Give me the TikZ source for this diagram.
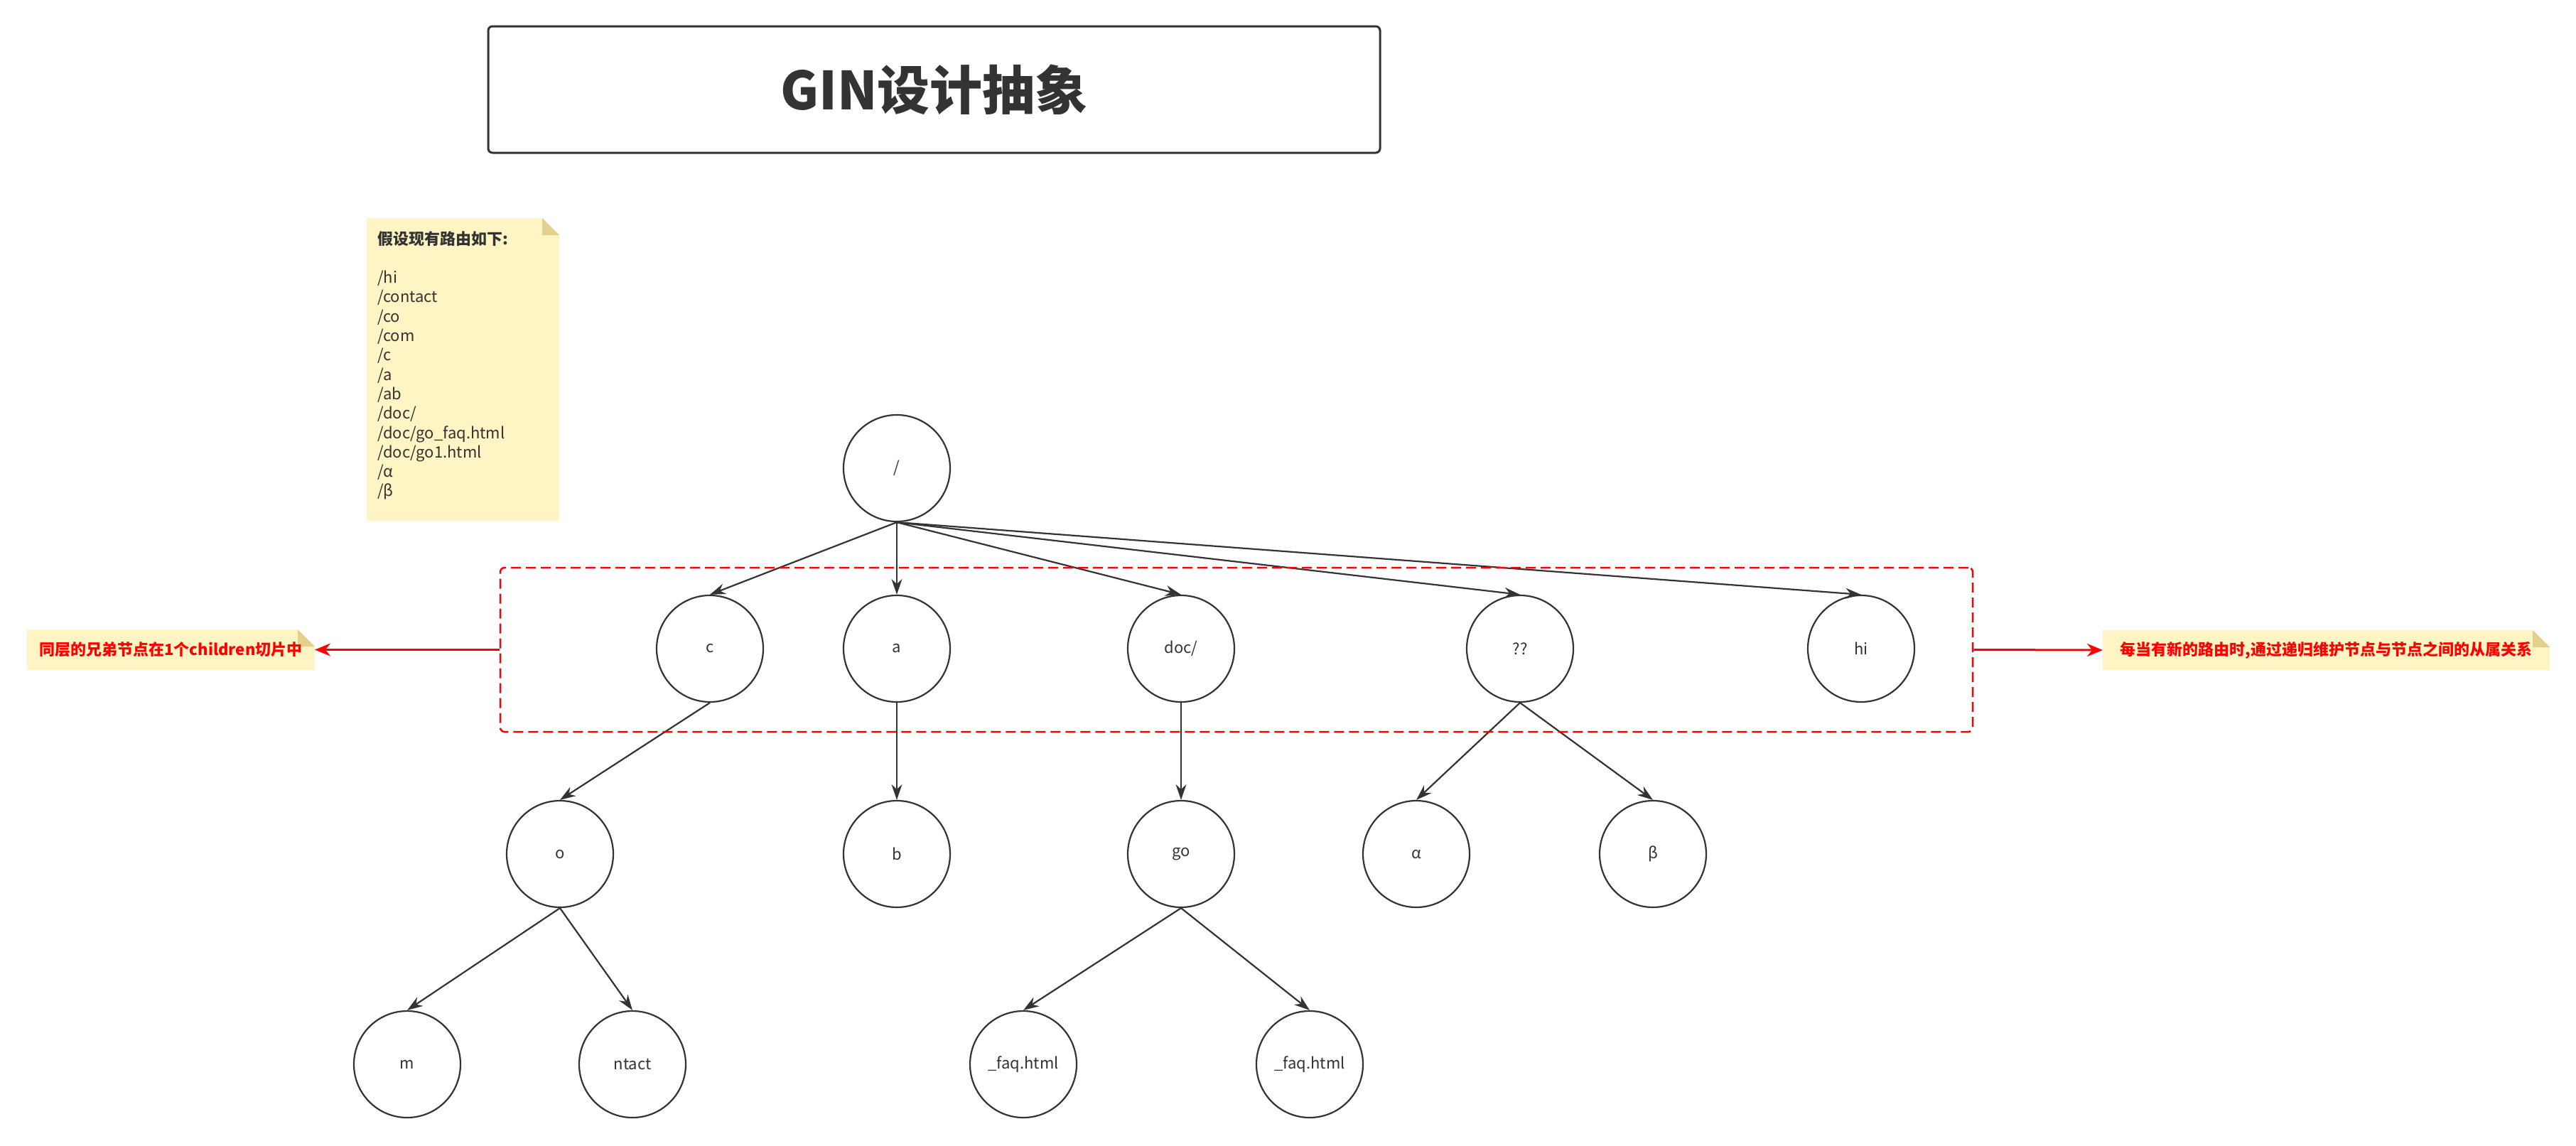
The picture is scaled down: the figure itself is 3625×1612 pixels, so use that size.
\documentclass[tikz,border=0pt]{standalone}
\usepackage{fontspec}
\setmainfont{Noto Sans CJK SC}
\usetikzlibrary{arrows.meta,backgrounds}
\definecolor{ink}{HTML}{333333}
\definecolor{notefill}{HTML}{FFF4C3}
\definecolor{foldfill}{HTML}{E3D08C}
\newcommand{\drawnote}[2]{%
  \fill[notefill] (#1.north west) -- ([xshift=-#2]#1.north east) -- ([yshift=-#2]#1.north east) -- (#1.south east) -- (#1.south west) -- cycle;
  \fill[foldfill] ([xshift=-#2]#1.north east) -- ([xshift=-#2,yshift=-#2]#1.north east) -- ([yshift=-#2]#1.north east) -- cycle;}
\begin{document}
\begin{tikzpicture}[x=1pt,y=-1pt,
  treenode/.style={circle, draw=ink, line width=2.2pt, fill=white, minimum size=150pt, inner sep=0pt, font=\fontsize{22}{26}\selectfont, text=ink},
  edge/.style={draw=ink, line width=2.2pt, -{Stealth[length=22pt,width=15pt]}},
  redarrow/.style={draw=red, line width=3pt, -{Stealth[length=22pt,width=18pt]}},
  notebox/.style={inner sep=0pt, outer sep=0pt},
  sidetext/.style={font=\fontsize{22}{26}\selectfont\bfseries, text=red},
]
\useasboundingbox (0,0) rectangle (3625,1612);
% title
\node[draw=ink, line width=3pt, rounded corners=6pt, minimum width=1255pt, minimum height=178pt, font=\fontsize{74}{80}\selectfont\bfseries, text=ink] (title) at (1314.5,126) {GIN设计抽象};
% route note
\node[notebox, minimum width=271pt, minimum height=426pt] (routes) at (651.5,520) {};
\node[anchor=north west, inner sep=0pt, align=left, font=\fontsize{22}{27.3}\selectfont, text=ink] (routetext) at ([xshift=15pt,yshift=-18pt]routes.north west)
  {{\bfseries 假设现有路由如下:}\\[27.3pt]/hi\\/contact\\/co\\/com\\/c\\/a\\/ab\\/doc/\\/doc/go\_faq.html\\/doc/go1.html\\/α\\/β};
% tree nodes
\node[treenode] (root) at (1262,659) {/};
\node[treenode] (c) at (999,913) {c};
\node[treenode] (a) at (1262,913) {a};
\node[treenode] (doc) at (1662,913) {doc/};
\node[treenode] (qq) at (2139,913) {??};
\node[treenode] (hi) at (2619,913) {hi};
\node[treenode] (o) at (788,1202) {o};
\node[treenode] (b) at (1262,1202) {b};
\node[treenode] (go) at (1662,1202) {go};
\node[treenode] (alpha) at (1993,1202) {α};
\node[treenode] (beta) at (2326,1202) {β};
\node[treenode] (m) at (573,1498) {m};
\node[treenode] (ntact) at (890,1498) {ntact};
\node[treenode] (faqa) at (1440,1498) {\_faq.html};
\node[treenode] (faqb) at (1843,1498) {\_faq.html};
% edges
\foreach \ch in {c,a,doc,qq,hi} \draw[edge] (root.south) -- (\ch.north);
\draw[edge] (c.south) -- (o.north);
\draw[edge] (a.south) -- (b.north);
\draw[edge] (doc.south) -- (go.north);
\draw[edge] (qq.south) -- (alpha.north);
\draw[edge] (qq.south) -- (beta.north);
\draw[edge] (o.south) -- (m.north);
\draw[edge] (o.south) -- (ntact.north);
\draw[edge] (go.south) -- (faqa.north);
\draw[edge] (go.south) -- (faqb.north);
% group
\node[draw=red, line width=2.5pt, dash pattern=on 14pt off 7pt, rounded corners=6pt, minimum width=2072pt, minimum height=231pt, inner sep=0pt] (grp) at (1740,914.5) {};
% side notes
\node[notebox, minimum width=405pt, minimum height=57pt, sidetext] (lnote) at (240.5,914.5) {同层的兄弟节点在1个children切片中};
\node[notebox, minimum width=629pt, minimum height=56pt, sidetext] (rnote) at (3273.5,915) {每当有新的路由时,通过递归维护节点与节点之间的从属关系};
\begin{scope}[on background layer]
  \drawnote{routes}{24pt}
  \drawnote{lnote}{24pt}
  \drawnote{rnote}{24pt}
\end{scope}
\draw[redarrow] (grp.west) -- (lnote.east);
\draw[redarrow] (grp.east) -- (rnote.west);
\end{tikzpicture}
\end{document}
